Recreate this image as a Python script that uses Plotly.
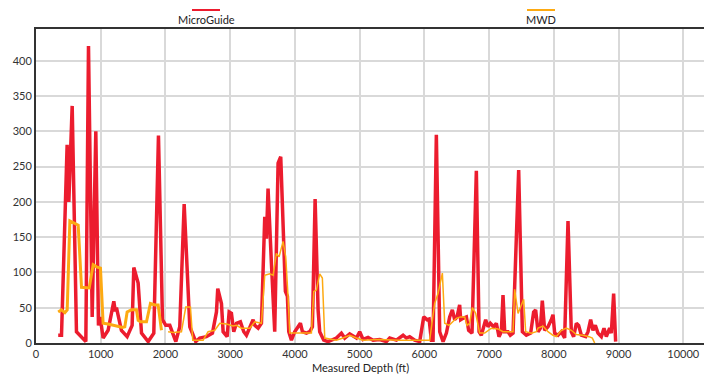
import plotly.graph_objects as go

# MicroGuide (red)
mg_depth = [343, 394, 481, 507, 559, 625, 770, 811, 868, 924, 965, 991, 1037, 1114, 1202, 1225, 1243,
            1320, 1408, 1485, 1511, 1578, 1630, 1733, 1820, 1892, 1954, 2005, 2067, 2160, 2221, 2289,
            2376, 2468, 2530, 2633, 2726, 2788, 2808, 2865, 2891, 2953, 2984, 3019, 3055, 3097, 3158,
            3210, 3251, 3302, 3354, 3380, 3432, 3483, 3534, 3560, 3585, 3637, 3688, 3740, 3781, 3853,
            3884, 3905, 3946, 3997, 4049, 4085, 4116, 4178, 4229, 4270, 4312, 4358, 4383, 4445, 4512,
            4641, 4718, 4769, 4846, 4898, 4950, 5001, 5053, 5130, 5208, 5310, 5413, 5464, 5568, 5671,
            5722, 5773, 5850, 5928, 5990, 6042, 6073, 6108, 6134, 6185, 6237, 6289, 6340, 6391, 6432,
            6468, 6505, 6545, 6561, 6597, 6649, 6684, 6736, 6803, 6845, 6880, 6947, 6983, 7019, 7070,
            7112, 7153, 7189, 7215, 7241, 7292, 7328, 7370, 7457, 7514, 7575, 7642, 7688, 7719, 7756,
            7792, 7822, 7858, 7910, 7961, 7987, 8013, 8064, 8116, 8167, 8219, 8270, 8306, 8348, 8383,
            8425, 8492, 8528, 8569, 8605, 8641, 8682, 8734, 8775, 8811, 8862, 8888, 8924, 8955]
mg_value = [11, 11, 281, 200, 336, 16, 2, 421, 37, 300, 25, 37, 7, 18, 59, 45, 50,
            18, 9, 25, 107, 85, 14, 2, 14, 294, 33, 25, 25, 2, 23, 197,
            23, 2, 7, 9, 14, 44, 77, 56, 16, 9, 44, 42, 16, 28, 30,
            16, 11, 21, 33, 25, 21, 28, 179, 148, 219, 113, 16, 255, 264, 73,
            66, 16, 4, 16, 23, 28, 16, 14, 16, 23, 204, 47, 16, 4, 2,
            7, 14, 7, 13, 10, 7, 16, 5, 8, 4, 5, 2, 7, 4, 11,
            7, 9, 4, 2, 37, 33, 34, 4, 4, 295, 16, 2, 14, 37, 47,
            33, 37, 54, 33, 35, 37, 18, 14, 244, 16, 11, 33, 23, 28, 23,
            28, 9, 16, 68, 16, 16, 11, 14, 245, 16, 11, 14, 44, 47, 16,
            21, 60, 18, 23, 33, 40, 14, 11, 16, 7, 173, 16, 9, 28, 25,
            11, 9, 16, 33, 18, 25, 14, 9, 21, 9, 21, 14, 70, 2]

# MWD (orange), first (thick) section
mwd_depth_a = [343, 394, 446, 482, 523, 575, 652, 703, 770, 822, 883, 935, 996, 1037, 1114, 1192,
               1270, 1336, 1372, 1408, 1475, 1552, 1578, 1614, 1707, 1768, 1835, 1887, 1938]
mwd_value_a = [44, 47, 43, 47, 173, 171, 167, 79, 78, 78, 111, 108, 106, 28, 27, 25,
               24, 22, 23, 44, 47, 47, 32, 30, 30, 56, 54, 54, 18]

# MWD (orange), later (thin) section
mwd_depth_b = [2041, 2118, 2247, 2314, 2386, 2422, 2582, 2659, 2762, 2839, 2942, 3045, 3097, 3174,
               3302, 3380, 3483, 3534, 3611, 3663, 3714, 3755, 3817, 3858, 3894, 3920, 4203, 4255,
               4291, 4332, 4383, 4424, 4461, 4641, 4743, 4846, 4950, 5053, 5300, 5600, 5928, 6082,
               6159, 6211, 6278, 6314, 6381, 6443, 6494, 6556, 6623, 6659, 6700, 6741, 6793, 6854,
               6932, 7035, 7138, 7215, 7318, 7370, 7395, 7447, 7534, 7565, 7652, 7730, 7756, 7833,
               7910, 7987, 8039, 8116, 8193, 8270, 8348, 8451, 8544, 8595, 8631]
mwd_value_b = [16, 15, 16, 51, 51, 4, 4, 16, 18, 28, 27, 24, 25, 21,
               21, 30, 28, 96, 98, 96, 127, 122, 144, 122, 66, 14, 14, 14,
               73, 75, 98, 92, 7, 4, 7, 11, 7, 4, 5, 4, 4, 4,
               56, 70, 99, 28, 25, 30, 35, 37, 37, 25, 28, 50, 42, 14,
               14, 21, 20, 16, 16, 16, 76, 42, 62, 16, 14, 16, 21, 24,
               16, 11, 9, 18, 21, 18, 12, 11, 9, 7, 0]

RED = "#EC1C2E"
ORANGE = "#FDAA12"
FONT = "Lato, 'Noto Sans', sans-serif"

fig = go.Figure()
fig.add_trace(go.Scatter(x=mg_depth, y=mg_value, mode="lines", name="MicroGuide",
                         line=dict(color=RED, width=3.5), showlegend=False))
fig.add_trace(go.Scatter(x=mwd_depth_a, y=mwd_value_a, mode="lines", name="MWD",
                         line=dict(color=ORANGE, width=3), showlegend=False))
fig.add_trace(go.Scatter(x=mwd_depth_b, y=mwd_value_b, mode="lines", name="MWD",
                         line=dict(color=ORANGE, width=1.5), showlegend=False))

W, H = 704, 375
L, R, T, B = 36, 0, 29, 32
pw, ph = W - L - R, H - T - B


def px(x):
    return (x - L) / pw


def py(y):
    return (H - B - y) / ph


legend_items = [("MicroGuide", RED, 206), ("MWD", ORANGE, 541)]
for name, col, cx in legend_items:
    fig.add_shape(type="line", xref="paper", yref="paper",
                  x0=px(cx - 14), x1=px(cx + 14), y0=py(10), y1=py(10),
                  line=dict(color=col, width=2))
    fig.add_annotation(text=name, xref="paper", yref="paper", x=px(cx), y=py(19),
                       showarrow=False, xanchor="center", yanchor="middle",
                       font=dict(family=FONT, size=11, color="#222"))

fig.add_annotation(text="Measured Depth (ft)", xref="paper", yref="paper",
                   x=px(360), y=py(367), showarrow=False, xanchor="center", yanchor="middle",
                   font=dict(family=FONT, size=11, color="#222"))

fig.update_layout(
    width=W, height=H,
    margin=dict(l=L, r=R, t=T, b=B, autoexpand=False),
    paper_bgcolor="white", plot_bgcolor="white",
    font=dict(family=FONT, size=11, color="#333"),
    xaxis=dict(range=[0, 10320], tickmode="array", automargin=False,
               tickvals=[0, 1000, 2000, 3000, 4000, 5000, 6000, 7000, 8000, 9000, 10000],
               ticktext=["0", "1000", "2000", "3000", "4000", "5000", "6000", "7000", "8000", "9000", "10000"],
               showgrid=True, gridcolor="#D9D9D9", gridwidth=1.5,
               showline=True, linecolor="#333", linewidth=2, mirror=True,
               zeroline=False, ticks="", ticklen=0),
    yaxis=dict(range=[0, 445], tickmode="array", automargin=False,
               tickvals=[0, 50, 100, 150, 200, 250, 300, 350, 400],
               showgrid=True, gridcolor="#D9D9D9", gridwidth=1.5,
               showline=True, linecolor="#333", linewidth=2,
               zeroline=False, ticks="", ticklen=0),
)

fig.write_html("out.html", config={"displayModeBar": False},
               post_script="document.body.style.margin='0';document.body.style.overflow='hidden';")
